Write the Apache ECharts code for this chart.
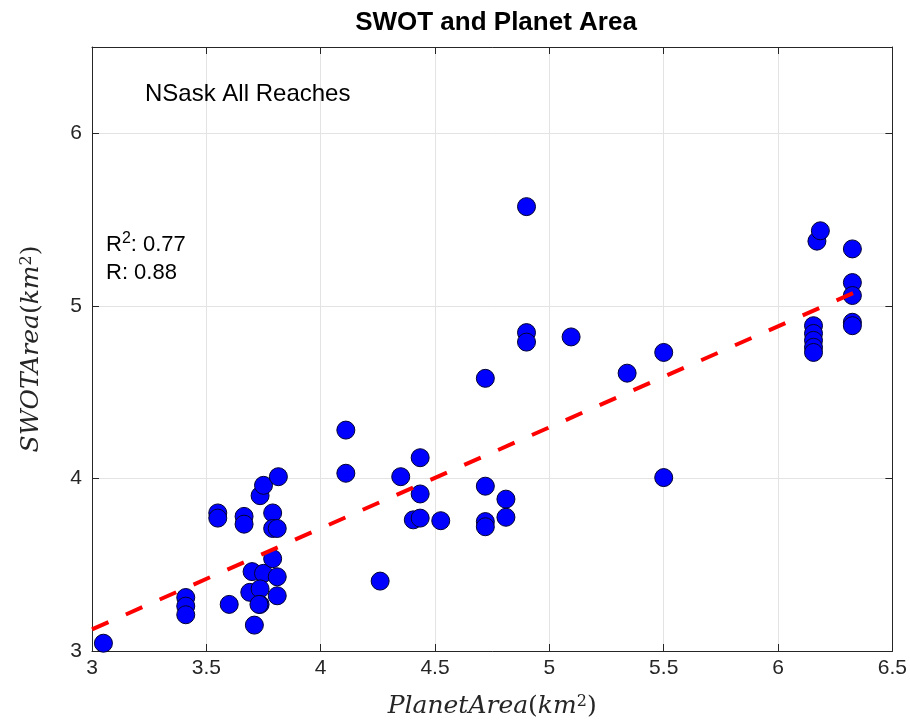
<!DOCTYPE html>
<html>
<head>
<meta charset="utf-8">
<script src="https://cdn.jsdelivr.net/npm/echarts@6/dist/echarts.min.js"></script>
<style>
html,body{margin:0;padding:0;background:#fff;}
#chart{width:910px;height:725px;}
</style>
</head>
<body>
<div id="chart"></div>
<script>
// Planet area (x) and SWOT area (y), km^2
const planetArea = [
  3.05, 3.41, 3.41, 3.41, 3.55, 3.55, 3.60, 3.665, 3.665, 3.70,
  3.69, 3.71, 3.735, 3.75, 3.75, 3.735, 3.735, 3.73, 3.79, 3.79,
  3.81, 3.79, 3.81, 3.81, 3.815, 4.11, 4.11, 4.26, 4.35, 4.435,
  4.435, 4.405, 4.435, 4.525, 4.72, 4.72, 4.72, 4.72, 4.81, 4.81,
  4.90, 4.90, 4.90, 5.095, 5.34, 5.50, 5.50, 6.17, 6.185, 6.155,
  6.155, 6.155, 6.155, 6.155, 6.325, 6.325, 6.325, 6.325, 6.325
];
const swotArea = [
  3.045, 3.31, 3.26, 3.21, 3.80, 3.77, 3.27, 3.78, 3.735, 3.46,
  3.34, 3.15, 3.90, 3.96, 3.45, 3.36, 3.27, 3.27, 3.80, 3.71,
  3.71, 3.535, 3.43, 3.32, 4.01, 4.28, 4.03, 3.405, 4.01, 4.12,
  3.91, 3.76, 3.77, 3.755, 4.58, 3.955, 3.75, 3.72, 3.88, 3.775,
  5.575, 4.845, 4.79, 4.82, 4.61, 4.73, 4.005, 5.375, 5.435, 4.885,
  4.84, 4.80, 4.76, 4.73, 5.33, 5.135, 5.06, 4.905, 4.885
];
// Fitted regression line end points
const fitX = [3.0, 6.33];
const fitY = [3.125, 5.075];

const xTickMin = 3, xTickMax = 6.5, xTickStep = 0.5;
const yTickMin = 3, yTickMax = 6.5, yTickStep = 1;

const titleText = 'SWOT and Planet Area';
const noteText = 'NSask All Reaches';
const r2Value = '0.77';
const rValue = '0.88';

const sans = 'Liberation Sans, Arial, Helvetica, sans-serif';
const serif = 'DejaVu Serif, Liberation Serif, serif';
const axisColor = '#262626';

const points = planetArea.map((x, i) => [x, swotArea[i]]);
const fitLine = fitX.map((x, i) => [x, fitY[i]]);

const nameRich = {
  i: {fontFamily: serif, fontStyle: 'italic', fontSize: 25, color: axisColor},
  n: {fontFamily: serif, fontSize: 25, color: axisColor},
  s: {fontFamily: serif, fontSize: 16, color: axisColor, verticalAlign: 'top'}
};

const chart = echarts.init(document.getElementById('chart'), null, {renderer: 'canvas'});

function mainAxisCommon(min, max, interval) {
  return {
    type: 'value', min: min, max: max, interval: interval,
    axisLine: {show: true, onZero: false, lineStyle: {color: axisColor, width: 1}},
    axisTick: {show: true, inside: true, length: 7, lineStyle: {color: axisColor}},
    splitLine: {show: true, lineStyle: {color: '#e3e3e3', width: 1}}
  };
}
function sideAxis(min, max, interval, pos) {
  return {
    type: 'value', min: min, max: max, interval: interval, position: pos,
    axisLine: {show: true, onZero: false, lineStyle: {color: axisColor, width: 1}},
    axisTick: {show: true, inside: true, length: 7, lineStyle: {color: axisColor}},
    axisLabel: {show: false},
    splitLine: {show: false}
  };
}

const annRich = {
  b: {fontFamily: sans, fontSize: 22, color: '#000', lineHeight: 28},
  s: {fontFamily: sans, fontSize: 16, color: '#000', verticalAlign: 'top', lineHeight: 28}
};

chart.setOption({
  animation: false,
  backgroundColor: '#ffffff',
  title: {
    text: titleText,
    left: 491, top: 5, textAlign: 'center',
    textStyle: {fontFamily: sans, fontWeight: 'bold', fontSize: 26, color: '#000'}
  },
  grid: {left: 92, right: 17, top: 47, bottom: 74, containLabel: false},
  xAxis: [
    Object.assign(mainAxisCommon(xTickMin, xTickMax, xTickStep), {
      position: 'bottom',
      axisLabel: {color: axisColor, fontFamily: sans, fontSize: 21, margin: 7},
      name: '{i|PlanetArea}{n|(}{i|km}{s|2}{n|)}',
      nameLocation: 'middle', nameGap: 43,
      nameTextStyle: {rich: nameRich}
    }),
    sideAxis(xTickMin, xTickMax, xTickStep, 'top')
  ],
  yAxis: [
    Object.assign(mainAxisCommon(yTickMin, yTickMax, yTickStep), {
      position: 'left',
      axisLabel: {color: axisColor, fontFamily: sans, fontSize: 21, margin: 10, showMaxLabel: false},
      name: '{i|SWOTArea}{n|(}{i|km}{s|2}{n|)}',
      nameLocation: 'middle', nameGap: 48, nameRotate: 90,
      nameTextStyle: {rich: nameRich}
    }),
    sideAxis(yTickMin, yTickMax, yTickStep, 'right')
  ],
  series: [
    {
      type: 'scatter', xAxisIndex: 0, yAxisIndex: 0,
      data: points, symbol: 'circle', symbolSize: 18,
      itemStyle: {color: '#0000ff', borderColor: '#000033', borderWidth: 1, opacity: 1},
      z: 3
    },
    {
      type: 'line', xAxisIndex: 0, yAxisIndex: 0,
      data: fitLine, showSymbol: false, symbol: 'none',
      lineStyle: {color: '#ff0000', width: 4, type: [18, 19]},
      z: 4
    }
  ],
  graphic: [
    {type: 'text', z: 100, left: 145, top: 82, style: {text: noteText, font: '24px ' + sans, fill: '#000'}},
    {type: 'text', z: 100, left: 106, top: 231, style: {text: '{b|R}{s|2}{b|: ' + r2Value + '}', rich: annRich}},
    {type: 'text', z: 100, left: 106, top: 262, style: {text: '{b|R: ' + rValue + '}', rich: annRich}}
  ]
});
</script>
</body>
</html>
